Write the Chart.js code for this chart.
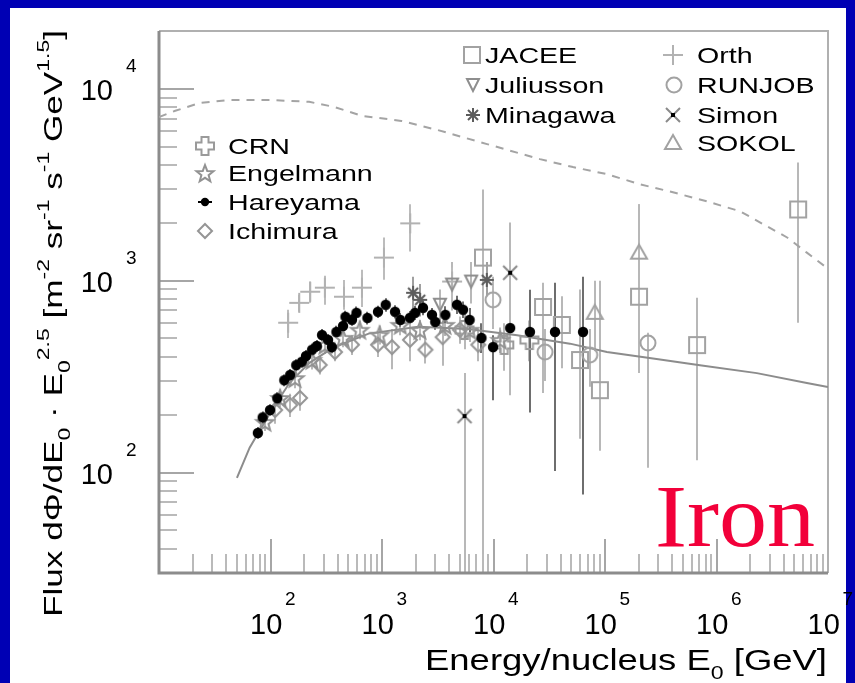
<!DOCTYPE html>
<html>
<head>
<meta charset="utf-8">
<title>Iron flux</title>
<script src="https://cdn.jsdelivr.net/npm/chart.js@4.4.1/dist/chart.umd.min.js"></script>
<style>
  html, body { margin: 0; padding: 0; width: 855px; height: 683px; overflow: hidden; background: #0000b4; }
  #paper { position: absolute; left: 10px; top: 8px; width: 836px; height: 675px; background: #ffffff; }
  #chart { position: absolute; left: 0; top: 0; }
</style>
</head>
<body>
<div id="paper"></div>
<canvas id="chart" width="855" height="683"></canvas>
<script>
// ---- measurements: energy per nucleus [GeV], flux x E^2.5, error limits ----
const crnE   = [5500, 12500, 21000];
const crnF   = [554, 463, 491];
const crnLo  = [440, 340, 380];
const crnHi  = [680, 600, 620];

const engelmannE  = [89, 122, 166, 236, 308, 447, 630, 950, 1460, 2190, 3670, 6100, 11500];
const engelmannF  = [184, 245, 311, 387, 464, 504, 555, 523, 589, 555, 589, 555, 492];
const engelmannLo = [165, 220, 275, 345, 415, 450, 495, 465, 520, 490, 515, 480, 420];
const engelmannHi = [205, 272, 350, 432, 515, 560, 620, 585, 660, 625, 665, 640, 570];

const hareyamaE  = [77, 85, 99, 115, 133, 150, 170, 191, 208, 236, 260, 290, 328, 355, 390, 447, 470, 538, 590, 740, 920, 1080, 1309, 1460, 1782, 1980, 2330, 2807, 3000, 3700, 4700, 5330, 6100, 7800, 9900, 14100, 21200, 35600, 63500];
const hareyamaF  = [161, 194, 212, 244, 303, 323, 363, 378, 405, 437, 457, 521, 492, 451, 541, 581, 648, 626, 680, 640, 689, 749, 689, 625, 641, 680, 722, 664, 610, 664, 749, 706, 625, 503, 451, 567, 541, 541, 541];
const hareyamaLo = [150, 180, 198, 226, 282, 300, 338, 352, 376, 406, 425, 484, 458, 419, 503, 540, 600, 582, 630, 592, 640, 690, 635, 575, 590, 625, 660, 610, 555, 600, 670, 640, 540, 420, 238, 440, 206, 102, 77];
const hareyamaHi = [173, 208, 227, 262, 325, 347, 390, 405, 436, 470, 491, 560, 528, 485, 582, 625, 698, 672, 733, 690, 740, 810, 745, 678, 695, 740, 788, 720, 672, 735, 835, 780, 720, 600, 520, 700, 897, 975, 1050];

const ichimuraE  = [110, 150, 184, 276, 379, 538, 920, 1230, 1782, 2450, 3500, 5000, 7300];
const ichimuraF  = [212, 225, 245, 364, 425, 464, 464, 451, 492, 437, 508, 555, 464];
const ichimuraLo = [180, 195, 210, 325, 380, 410, 400, 346, 380, 370, 360, 470, 380];
const ichimuraHi = [245, 258, 280, 405, 470, 520, 535, 560, 600, 510, 620, 650, 560];

const jaceeE  = [8050, 27800, 41000, 59700, 90000, 202000, 670000, 5400000];
const jaceeF  = [1320, 730, 588, 386, 269, 825, 462, 2350];
const jaceeLo = [10, 260, 350, 150, 130, 330, 116, 604];
const jaceeHi = [2990, 975, 830, 900, 1000, 2500, 815, 4130];

const juliussonE  = [3310, 4250, 6300];
const juliussonF  = [750, 955, 990];
const juliussonLo = [600, 700, 760];
const juliussonHi = [900, 1250, 1250];

const minagawaE  = [1900, 2200, 8700];
const minagawaF  = [865, 795, 1010];
const minagawaLo = [700, 650, 830];
const minagawaHi = [1050, 960, 1250];

const orthE  = [144, 181, 227, 307, 456, 660, 1040, 1790, 4250];
const orthF  = [604, 767, 876, 920, 825, 920, 1320, 1990, 990];
const orthLo = [503, 689, 767, 750, 705, 730, 1012, 1420, 795];
const orthHi = [705, 845, 990, 1060, 1010, 1140, 1680, 2500, 1170];

const runjobE  = [9900, 29000, 73000, 243000];
const runjobF  = [795, 425, 410, 474];
const runjobLo = [560, 300, 280, 106];
const runjobHi = [1050, 560, 560, 535];

const simonE  = [5500, 14100];
const simonF  = [197, 1100];
const simonLo = [10, 253];
const simonHi = [330, 2010];

const sokolE  = [81000, 202000];
const sokolF  = [680, 1400];
const sokolLo = [430, 330];
const sokolHi = [1000, 2500];

// ---- model curves ----
const fitE = [50, 65, 80, 109, 148, 222, 371, 759, 2110, 5870, 16300, 48500, 104000, 290000, 710000, 2300000, 6460000, 10000000];
const fitF = [94, 135, 166, 224, 293, 372, 450, 530, 575, 560, 520, 470, 425, 391, 363, 330, 293, 279];

const bandE = [10, 14, 23.4, 43, 98, 222, 371, 658, 1490, 3180, 8750, 26100, 51600, 104000, 206000, 407000, 820000, 1630000, 2840000, 4300000, 6460000, 10000000];
const bandF = [7130, 7680, 8450, 8750, 8750, 8550, 8050, 7230, 6800, 6090, 5150, 4300, 3910, 3590, 3180, 2890, 2590, 2300, 1920, 1680, 1400, 1155];

// ---- axis decades ----
const xDecades = [2, 3, 4, 5, 6, 7];
const yDecades = [2, 3, 4];

// ---- marker glyphs ----
function glyph(kind) {
  const c = document.createElement('canvas');
  c.width = 24; c.height = 24;
  const g = c.getContext('2d');
  const m = 12;
  g.lineWidth = 2;
  g.strokeStyle = '#a2a2a2';
  g.fillStyle = '#000';
  g.beginPath();
  switch (kind) {
    case 'square': g.strokeRect(m - 8, m - 8, 16, 16); break;
    case 'circle': g.arc(m, m, 7.5, 0, Math.PI * 2); g.stroke(); break;
    case 'triUp': g.moveTo(m, m - 8); g.lineTo(m + 8, m + 6); g.lineTo(m - 8, m + 6); g.closePath(); g.stroke(); break;
    case 'triDown': g.strokeStyle = '#8e8e8e'; g.moveTo(m - 6, m - 6); g.lineTo(m + 6, m - 6); g.lineTo(m, m + 6); g.closePath(); g.stroke(); break;
    case 'plus': g.strokeStyle = '#b2b2b2'; g.moveTo(m - 10, m); g.lineTo(m + 10, m); g.moveTo(m, m - 10); g.lineTo(m, m + 10); g.stroke(); break;
    case 'hollowPlus': {
      g.strokeStyle = '#9a9a9a';
      const a = 3.5, b = 9;
      g.moveTo(m - a, m - b); g.lineTo(m + a, m - b); g.lineTo(m + a, m - a); g.lineTo(m + b, m - a);
      g.lineTo(m + b, m + a); g.lineTo(m + a, m + a); g.lineTo(m + a, m + b); g.lineTo(m - a, m + b);
      g.lineTo(m - a, m + a); g.lineTo(m - b, m + a); g.lineTo(m - b, m - a); g.lineTo(m - a, m - a); g.closePath(); g.stroke();
      break;
    }
    case 'star5': {
      g.strokeStyle = '#929292';
      for (let i = 0; i < 10; i++) {
        const r = i % 2 ? 3.8 : 9;
        const t = -Math.PI / 2 + i * Math.PI / 5;
        const px = m + r * Math.cos(t), py = m + 1 + r * Math.sin(t);
        i ? g.lineTo(px, py) : g.moveTo(px, py);
      }
      g.closePath(); g.stroke();
      break;
    }
    case 'diamond': g.strokeStyle = '#959595'; g.moveTo(m, m - 7); g.lineTo(m + 7, m); g.lineTo(m, m + 7); g.lineTo(m - 7, m); g.closePath(); g.stroke(); break;
    case 'asterisk':
      g.strokeStyle = '#5c5c5c';
      g.moveTo(m - 7, m); g.lineTo(m + 7, m); g.moveTo(m, m - 7); g.lineTo(m, m + 7);
      g.moveTo(m - 5, m - 5); g.lineTo(m + 5, m + 5); g.moveTo(m + 5, m - 5); g.lineTo(m - 5, m + 5); g.stroke();
      break;
    case 'xmark':
      g.strokeStyle = '#8a8a8a';
      g.moveTo(m - 7, m - 7); g.lineTo(m + 7, m + 7); g.moveTo(m + 7, m - 7); g.lineTo(m - 7, m + 7); g.stroke();
      g.fillRect(m - 2, m - 2, 4, 4);
      break;
    case 'dot': g.arc(m, m, 5.2, 0, Math.PI * 2); g.fill(); break;
    case 'dotBar':
      g.arc(m, m, 4.2, 0, Math.PI * 2); g.fill();
      g.fillRect(m - 7, m - 1, 14, 2);
      break;
  }
  return c;
}

function pts(xs, ys) { return xs.map((v, i) => ({ x: v, y: ys[i] })); }

function series(label, xs, ys, lo, hi, kind, errColor, order, legendKind) {
  const mark = glyph(kind);
  return {
    type: 'scatter', label, data: pts(xs, ys), pointStyle: mark, pointRadius: 8, pointHoverRadius: 8,
    errLo: lo, errHi: hi, errColor, order, legendMark: legendKind ? glyph(legendKind) : mark
  };
}

const datasets = [
  series('CRN', crnE, crnF, crnLo, crnHi, 'hollowPlus', '#b8b8b8', 2),
  series('Engelmann', engelmannE, engelmannF, engelmannLo, engelmannHi, 'star5', '#b8b8b8', 2),
  series('Hareyama', hareyamaE, hareyamaF, hareyamaLo, hareyamaHi, 'dot', '#6e6e6e', 0, 'dotBar'),
  series('Ichimura', ichimuraE, ichimuraF, ichimuraLo, ichimuraHi, 'diamond', '#b8b8b8', 2),
  series('JACEE', jaceeE, jaceeF, jaceeLo, jaceeHi, 'square', '#b8b8b8', 2),
  series('Juliusson', juliussonE, juliussonF, juliussonLo, juliussonHi, 'triDown', '#b8b8b8', 2),
  series('Minagawa', minagawaE, minagawaF, minagawaLo, minagawaHi, 'asterisk', '#a0a0a0', 1),
  series('Orth', orthE, orthF, orthLo, orthHi, 'plus', '#bcbcbc', 2),
  series('RUNJOB', runjobE, runjobF, runjobLo, runjobHi, 'circle', '#b8b8b8', 2),
  series('Simon', simonE, simonF, simonLo, simonHi, 'xmark', '#b8b8b8', 1),
  series('SOKOL', sokolE, sokolF, sokolLo, sokolHi, 'triUp', '#b8b8b8', 2),
  { type: 'scatter', label: 'fit', data: pts(fitE, fitF), showLine: true, pointRadius: 0, borderColor: '#8c8c8c', borderWidth: 2, order: 5, legendSkip: true },
  { type: 'scatter', label: 'upper', data: pts(bandE, bandF), showLine: true, pointRadius: 0, borderColor: '#a4a4a4', borderWidth: 2, borderDash: [8, 7], order: 5, legendSkip: true }
];

// legend slots: marker centre and text start
const legendSlots = [
  [205, 146, 228], [205, 173, 228], [205, 202, 228], [205, 231, 228],
  [472, 55, 485], [473, 85, 485], [473, 115, 485],
  [673, 55, 697], [674, 85, 697], [673, 115, 697], [673, 143, 697]
];

const SANS = '"Liberation Sans", Arial, Helvetica, sans-serif';

function richWidth(ctx, parts, S, s) {
  let w = 0;
  for (const [t, k] of parts) {
    ctx.font = (k === 'n' ? S : s) + 'px ' + SANS;
    w += ctx.measureText(t).width;
  }
  return w;
}
function drawRich(ctx, parts, x, y, S, s, sx) {
  ctx.save();
  ctx.translate(x, y);
  ctx.scale(sx, 1);
  let cx = 0;
  for (const [t, k] of parts) {
    ctx.font = (k === 'n' ? S : s) + 'px ' + SANS;
    const dy = k === 'sup' ? -S * 0.5 : (k === 'sub' ? S * 0.3 : 0);
    ctx.fillText(t, cx, dy);
    cx += ctx.measureText(t).width;
  }
  ctx.restore();
}

const errorBars = {
  id: 'errorBars',
  beforeDatasetsDraw(chart) {
    const { ctx, chartArea: a, scales: { x, y } } = chart;
    ctx.save();
    ctx.beginPath();
    ctx.rect(a.left, a.top, a.right - a.left, a.bottom - a.top);
    ctx.clip();
    ctx.lineWidth = 2;
    chart.data.datasets.forEach(ds => {
      if (!ds.errLo) return;
      ctx.strokeStyle = ds.errColor;
      ds.data.forEach((p, i) => {
        const px = Math.round(x.getPixelForValue(p.x));
        ctx.beginPath();
        ctx.moveTo(px, y.getPixelForValue(ds.errLo[i]));
        ctx.lineTo(px, y.getPixelForValue(ds.errHi[i]));
        ctx.stroke();
      });
    });
    ctx.restore();
  }
};

const frame = {
  id: 'frame',
  beforeDatasetsDraw(chart) {
    const { ctx, chartArea: a, scales: { x, y } } = chart;
    ctx.save();
    ctx.lineWidth = 2;
    // x ticks, drawn inward from the bottom edge
    for (let d = 1; d <= 6; d++) {
      for (let m = 1; m <= 9; m++) {
        const v = m * Math.pow(10, d);
        if (v <= x.min || v >= x.max) continue;
        const px = Math.round(x.getPixelForValue(v));
        ctx.strokeStyle = m === 1 ? '#a6a6a6' : '#bababa';
        ctx.beginPath();
        ctx.moveTo(px, a.bottom);
        ctx.lineTo(px, a.bottom - (m === 1 ? 34 : 19));
        ctx.stroke();
      }
    }
    // y ticks, drawn inward from the left edge
    for (let d = 1; d <= 4; d++) {
      for (let m = 1; m <= 9; m++) {
        const v = m * Math.pow(10, d);
        if (v <= y.min || v >= y.max) continue;
        const py = Math.round(y.getPixelForValue(v));
        ctx.strokeStyle = m === 1 ? '#a6a6a6' : '#bababa';
        ctx.beginPath();
        ctx.moveTo(a.left, py);
        ctx.lineTo(a.left + (m === 1 ? 35 : 18), py);
        ctx.stroke();
      }
    }
    // frame
    ctx.strokeStyle = '#b0b0b0';
    ctx.beginPath();
    ctx.moveTo(a.left, a.top); ctx.lineTo(a.right, a.top); ctx.lineTo(a.right, a.bottom);
    ctx.stroke();
    ctx.strokeStyle = '#8c8c8c';
    ctx.lineWidth = 3;
    ctx.beginPath();
    ctx.moveTo(a.left, a.top); ctx.lineTo(a.left, a.bottom); ctx.lineTo(a.right, a.bottom);
    ctx.stroke();
    ctx.restore();
  },
  afterDatasetsDraw(chart) {
    const { ctx, scales: { x, y } } = chart;
    ctx.save();
    ctx.fillStyle = '#000';
    ctx.textBaseline = 'alphabetic';
    // tick labels 10^n
    for (const d of xDecades) {
      const px = x.getPixelForValue(Math.pow(10, d));
      const parts = [['10', 'n'], [String(d), 'sup']];
      const w = richWidth(ctx, parts, 29, 19);
      drawRich(ctx, [['10', 'n']], px - w / 2 + 1, 634, 29, 19, 1);
      ctx.font = '19px ' + SANS;
      ctx.fillText(String(d), px - w / 2 + 1 + 32 + 3, 605);
    }
    for (const d of yDecades) {
      const py = y.getPixelForValue(Math.pow(10, d));
      ctx.font = '29px ' + SANS;
      ctx.textAlign = 'right';
      ctx.fillText('10', 113, py + 11);
      ctx.textAlign = 'left';
      ctx.font = '19px ' + SANS;
      ctx.fillText(String(d), 126, py - 17);
    }
    // axis titles
    const xt = [['Energy/nucleus E', 'n'], ['0', 'sub'], [' [GeV]', 'n']];
    const xw = richWidth(ctx, xt, 30, 19);
    drawRich(ctx, xt, 425, 670, 30, 19, 402 / xw);

    const yt = [['Flux dΦ/dE', 'n'], ['0', 'sub'], [' · E', 'n'], ['0', 'sub'], ['2.5', 'sup'], [' [m', 'n'], ['-2', 'sup'],
                [' sr', 'n'], ['-1', 'sup'], [' s', 'n'], ['-1', 'sup'], [' GeV', 'n'], ['1.5', 'sup'], [']', 'n']];
    const yw = richWidth(ctx, yt, 26, 17);
    ctx.save();
    ctx.translate(62, 617);
    ctx.rotate(-Math.PI / 2);
    drawRich(ctx, yt, 0, 0, 26, 17, 587 / yw);
    ctx.restore();

    // legend
    const shown = chart.data.datasets.filter(ds => !ds.legendSkip);
    shown.forEach((ds, i) => {
      const [mx, my, tx] = legendSlots[i];
      const g = ds.legendMark;
      ctx.drawImage(g, Math.round(mx - g.width / 2), Math.round(my - g.height / 2));
      drawRich(ctx, [[ds.label, 'n']], tx, my + 8, 22, 14, 1.3);
    });

    // element name
    ctx.fillStyle = '#f2003a';
    ctx.font = '88px "Liberation Serif", "Times New Roman", serif';
    const iw = ctx.measureText('Iron').width;
    ctx.save();
    ctx.translate(655, 546);
    ctx.scale(160 / iw, 1);
    ctx.fillText('Iron', 0, 0);
    ctx.restore();
    ctx.restore();
  }
};

new Chart(document.getElementById('chart'), {
  type: 'scatter',
  data: { datasets },
  options: {
    responsive: false,
    animation: false,
    devicePixelRatio: 1,
    layout: { padding: { left: 159, top: 31, right: 27, bottom: 110 } },
    plugins: { legend: { display: false }, tooltip: { enabled: false } },
    events: [],
    scales: {
      x: { type: 'logarithmic', min: 10, max: 1e7, display: false },
      y: { type: 'logarithmic', min: 30, max: 2e4, display: false }
    }
  },
  plugins: [errorBars, frame]
});
</script>
</body>
</html>
